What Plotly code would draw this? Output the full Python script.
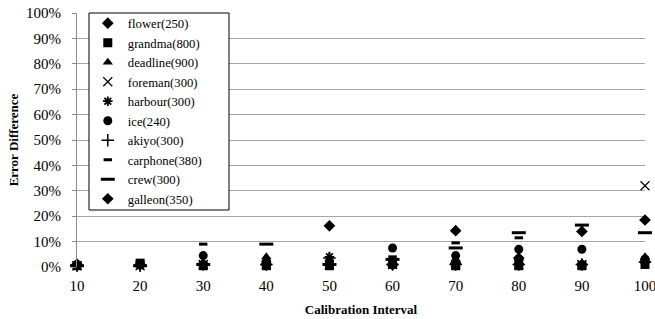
import plotly.graph_objects as go

intervals = [10, 20, 30, 40, 50, 60, 70, 80, 90, 100]

series_names = ["flower(250)", "grandma(800)", "deadline(900)", "foreman(300)", "harbour(300)",
                "ice(240)", "akiyo(300)", "carphone(380)", "crew(300)", "galleon(350)"]

flower   = [0.010, 0.008, 0.010, 0.010, 0.010, 0.010, 0.015, 0.035, 0.010, 0.020]
grandma  = [0.005, 0.015, 0.005, 0.005, 0.005, 0.010, 0.005, 0.005, 0.005, 0.010]
deadline = [0.010, 0.010, 0.015, 0.040, 0.020, 0.010, 0.010, 0.020, 0.010, 0.040]
foreman  = [0.005, 0.005, 0.010, 0.010, 0.010, 0.010, 0.010, 0.010, 0.010, 0.320]
harbour  = [0.005, 0.005, 0.010, 0.020, 0.040, 0.010, 0.020, 0.030, 0.010, 0.030]
ice      = [0.010, 0.010, 0.045, 0.020, 0.020, 0.075, 0.045, 0.070, 0.070, 0.020]
akiyo    = [0.005, 0.005, 0.010, 0.010, 0.035, 0.010, 0.010, 0.010, 0.010, 0.020]
carphone = [0.005, 0.005, 0.090, 0.010, 0.020, 0.040, 0.095, 0.115, 0.010, 0.030]
crew     = [0.005, 0.005, 0.010, 0.090, 0.010, 0.030, 0.075, 0.135, 0.165, 0.135]
galleon  = [0.010, 0.010, 0.010, 0.010, 0.162, 0.010, 0.143, 0.010, 0.140, 0.185]

values = [flower, grandma, deadline, foreman, harbour, ice, akiyo, carphone, crew, galleon]
symbols = ["diamond", "square", "triangle-up", "x-thin-open", "asterisk-open",
           "circle", "cross-thin-open", "line-ew-open", "line-ew-open", "diamond"]
sizes = [9, 9, 9, 9, 8, 9, 9, 6, 10, 9]
line_widths = [0, 0, 0, 1.2, 1.8, 0, 1.5, 3, 3, 0]

fig = go.Figure()
for name, vals, sym, sz, lw in zip(series_names, values, symbols, sizes, line_widths):
    fig.add_trace(go.Scatter(
        x=intervals, y=vals, mode="markers", name=name,
        marker=dict(symbol=sym, size=sz, color="black",
                    line=dict(color="black", width=lw)),
        cliponaxis=False,
    ))

font_family = "Liberation Serif"

fig.update_layout(
    width=655, height=319,
    margin=dict(l=77, r=10, t=13, b=52, autoexpand=False),
    paper_bgcolor="white", plot_bgcolor="white",
    font=dict(family=font_family, size=13, color="black"),
    showlegend=True,
    legend=dict(x=0.019, y=1.018, xanchor="left", yanchor="top",
                maxheight=300,
                bgcolor="rgba(0,0,0,0)", borderwidth=0,
                font=dict(family=font_family, size=12.7, color="black"),
                itemwidth=30, tracegroupgap=0),
    xaxis=dict(range=[10, 100], tick0=10, dtick=10, showgrid=False,
               showline=False, zeroline=False, ticks="",
               ticklabelstandoff=8,
               ticklabeloverflow="allow",
               tickfont=dict(family=font_family, size=15),
               title=dict(text="<b>Calibration Interval</b>", standoff=11,
                          font=dict(family=font_family, size=13))),
    yaxis=dict(range=[0, 1.0], dtick=0.1, tickformat=".0%",
               showgrid=True, gridcolor="#a6a6a6", gridwidth=1,
               showline=True, linecolor="#8c8c8c", linewidth=1,
               zeroline=False, ticks="outside", ticklen=4, tickcolor="#8c8c8c",
               ticklabelstandoff=8,
               tickfont=dict(family=font_family, size=15),
               title=dict(text="<b>Error Difference</b>", standoff=4,
                          font=dict(family=font_family, size=13))),
    shapes=[dict(type="rect", xref="paper", yref="paper",
                 x0=0.0211, x1=0.2676, y0=0.2244, y1=1.0,
                 line=dict(color="black", width=1), fillcolor="white",
                 layer="above")],
)

fig.write_html("out.html", config={"displayModeBar": False},
               post_script="document.body.style.margin='0';")
